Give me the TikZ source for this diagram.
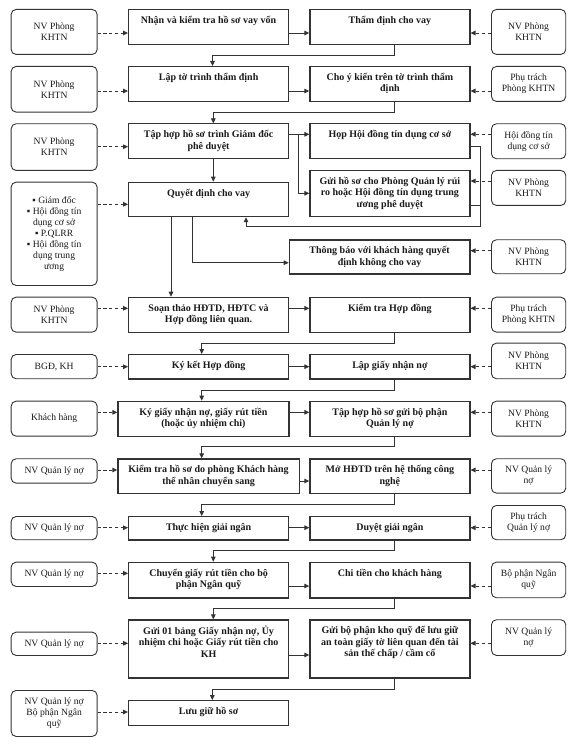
\documentclass[tikz,border=0pt]{standalone}
\usepackage{fontspec}
\setmainfont{Liberation Serif}
\usetikzlibrary{arrows.meta}
\definecolor{lc}{HTML}{333333}
\definecolor{tc}{HTML}{1A1A1A}
\tikzset{
  mbox/.style={draw=lc, line width=1.2pt, rectangle, inner sep=0pt, anchor=north west},
  abox/.style={draw=lc, line width=0.9pt, rounded corners=5pt, rectangle, inner sep=0pt,
    anchor=north west, align=center, font=\fontsize{9.6}{11}\selectfont, text=tc},
  mtext/.style={anchor=north, align=center, inner sep=0pt,
    font=\bfseries\fontsize{10}{11.6}\selectfont, text=tc},
  flow/.style={draw=lc, line width=0.9pt, -{Triangle[length=5pt,width=4.6pt]}},
  dflow/.style={flow, dash pattern=on 3.2pt off 2.6pt},
}
\newcommand\mainbox[6]{%
  \node[mbox, minimum width=#4pt, minimum height=#5pt] (#1) at (#2,#3) {};
  \node[mtext] (#1t) at ([yshift=-6pt]#1.north) {\strut #6};
}
\newcommand\actbox[6]{%
  \node[abox, minimum width=#4pt, minimum height=#5pt] (#1) at (#2,#3) {#6};
}
\begin{document}
\begin{tikzpicture}[x=1pt,y=-1pt]
\useasboundingbox (0,0) rectangle (576,751);
\fill[white] (0,0) rectangle (576,751);

% row 1
\mainbox{a1}{128}{9}{160}{35}{Nhận và kiểm tra hồ sơ vay vốn}
\mainbox{b1}{309.3}{9}{160}{35}{Thẩm định cho vay}
\actbox{l1}{10.7}{9}{86}{45}{NV Phòng\\KHTN}
\actbox{r1}{491}{9}{74.3}{45}{NV Phòng\\KHTN}
% row 2
\mainbox{a2}{128}{66}{160}{35}{Lập tờ trình thẩm định}
\mainbox{b2}{309.3}{66}{160}{35}{Cho ý kiến trên tờ trình thẩm\\định}
\actbox{l2}{10.7}{66}{86}{45.7}{NV Phòng\\KHTN}
\actbox{r2}{491}{66}{74.3}{35}{Phụ trách\\Phòng KHTN}
% row 3
\mainbox{a3}{128}{123.3}{160}{35}{Tập hợp hồ sơ trình Giám đốc\\phê duyệt}
\mainbox{b3}{309.3}{123.3}{160}{35}{Họp Hội đồng tín dụng cơ sở}
\actbox{l3}{10.7}{123.3}{86}{46.7}{NV Phòng\\KHTN}
\actbox{r3}{491}{123.3}{74.3}{35}{Hội đồng tín\\dụng cơ sở}
% decision
\mainbox{qd}{128}{181.7}{160}{34.3}{Quyết định cho vay}
\mainbox{gui}{309.3}{170}{160}{46}{Gửi hồ sơ cho Phòng Quản lý rủi\\ro hoặc Hội đồng tín dụng trung\\ương phê duyệt}
\actbox{l4}{10.7}{181.7}{86}{103.3}{▪ Giám đốc\\▪ Hội đồng tín\\dụng cơ sở\\▪ P.QLRR\\▪ Hội đồng tín\\dụng trung\\ương}
\actbox{r4}{491}{170}{74.3}{35}{NV Phòng\\KHTN}
\mainbox{tb}{288.7}{239.3}{180.6}{34}{Thông báo với khách hàng quyết\\định không cho vay}
\actbox{r5}{491}{239.3}{74.3}{34}{NV Phòng\\KHTN}
% contracts
\mainbox{soan}{128}{296.7}{160}{35}{Soạn thảo HĐTD, HĐTC và\\Hợp đồng liên quan.}
\mainbox{kthd}{309.3}{296.7}{160}{35}{Kiểm tra Hợp đồng}
\actbox{l5}{10.7}{296.7}{86}{35}{NV Phòng\\KHTN}
\actbox{r6}{491}{296.7}{74.3}{35}{Phụ trách\\Phòng KHTN}
\mainbox{kk}{128}{354}{160}{24.3}{Ký kết Hợp đồng}
\mainbox{lg}{309.3}{354}{160}{24.3}{Lập giấy nhận nợ}
\actbox{l6}{10.7}{354}{86}{24.3}{BGĐ, KH}
\actbox{r7}{491}{342.7}{74.3}{35.6}{NV Phòng\\KHTN}
\mainbox{kg}{117.3}{400.7}{171}{35}{Ký giấy nhận nợ, giấy rút tiền\\(hoặc ủy nhiệm chi)}
\mainbox{th}{309.3}{400.7}{160}{35}{Tập hợp hồ sơ gửi bộ phận\\Quản lý nợ}
\actbox{l7}{10.7}{400.7}{86}{35}{Khách hàng}
\actbox{r8}{491}{400.7}{74.3}{35}{NV Phòng\\KHTN}
% debt management
\mainbox{kths}{117.3}{458.3}{181.4}{34.4}{Kiểm tra hồ sơ do phòng Khách hàng\\thể nhân chuyển sang}
\mainbox{mo}{309.3}{458.3}{160}{34.4}{Mở HĐTD trên hệ thống công\\nghệ}
\actbox{l8}{10.7}{458.3}{86}{24.4}{NV Quản lý nợ}
\actbox{r9}{491}{458.3}{74.3}{34.4}{NV Quản lý\\nợ}
\mainbox{thgn}{128}{516}{160}{23.3}{Thực hiện giải ngân}
\mainbox{dgn}{309.3}{516}{160}{23.3}{Duyệt giải ngân}
\actbox{l9}{10.7}{516}{86}{23.3}{NV Quản lý nợ}
\actbox{r10}{491}{505}{74.3}{34.3}{Phụ trách\\Quản lý nợ}
\mainbox{cg}{128}{561.7}{160}{35.6}{Chuyển giấy rút tiền cho bộ\\phận Ngân quỹ}
\mainbox{ct}{309.3}{561.7}{160}{35.6}{Chi tiền cho khách hàng}
\actbox{l10}{10.7}{561.7}{86}{24.3}{NV Quản lý nợ}
\actbox{r11}{491}{561.7}{74.3}{35.6}{Bộ phận Ngân\\quỹ}
\mainbox{g01}{128}{619.3}{160}{58}{Gửi 01 bảng Giấy nhận nợ, Ủy\\nhiệm chi hoặc Giấy rút tiền cho\\KH}
\mainbox{gk}{309.3}{619.3}{160}{58}{Gửi bộ phận kho quỹ để lưu giữ\\an toàn giấy tờ liên quan đến tài\\sản thế chấp / cầm cố}
\actbox{l11}{10.7}{631.7}{86}{23.3}{NV Quản lý nợ}
\actbox{r12}{491}{619.3}{74.3}{35.7}{NV Quản lý\\nợ}
\mainbox{luu}{128}{700}{160}{24.5}{Lưu giữ hồ sơ}
\actbox{l12}{10.7}{690}{86}{46}{NV Quản lý nợ\\Bộ phận Ngân\\quỹ}

% horizontal arrows
\draw[dflow] (l1.east |- 0,33) -- (a1.west |- 0,33);
\draw[flow] (a1.east |- 0,33) -- (b1.west |- 0,33);
\draw[dflow] (r1.west |- 0,33) -- (b1.east |- 0,33);
\draw[dflow] (l2.east |- 0,91) -- (a2.west |- 0,91);
\draw[flow] (a2.east |- 0,91) -- (b2.west |- 0,91);
\draw[dflow] (r2.west |- 0,91) -- (b2.east |- 0,91);
\draw[dflow] (l3.east |- 0,146.7) -- (a3.west |- 0,146.7);
\draw[flow] (a3.east |- 0,134.3) -- (b3.west |- 0,134.3);
\draw[dflow] (r3.west |- 0,134.3) -- (b3.east |- 0,134.3);
\draw[flow] (298.7,134.3) -- (298.7,193.3) -- (gui.west |- 0,193.3);
\draw[dflow] (l4.east |- 0,204.3) -- (qd.west |- 0,204.3);
\draw[dflow] (r4.west |- 0,181) -- (gui.east |- 0,181);
\draw[dflow] (r5.west |- 0,250.7) -- (tb.east |- 0,250.7);
\draw[dflow] (l5.east |- 0,308.3) -- (soan.west |- 0,308.3);
\draw[flow] (soan.east |- 0,308.3) -- (kthd.west |- 0,308.3);
\draw[dflow] (r6.west |- 0,308.3) -- (kthd.east |- 0,308.3);
\draw[dflow] (l6.east |- 0,366.7) -- (kk.west |- 0,366.7);
\draw[flow] (kk.east |- 0,366.7) -- (lg.west |- 0,366.7);
\draw[dflow] (r7.west |- 0,366.7) -- (lg.east |- 0,366.7);
\draw[dflow] (l7.east |- 0,412.3) -- (kg.west |- 0,412.3);
\draw[flow] (kg.east |- 0,412.3) -- (th.west |- 0,412.3);
\draw[dflow] (r8.west |- 0,412.3) -- (th.east |- 0,412.3);
\draw[dflow] (l8.east |- 0,470) -- (kths.west |- 0,470);
\draw[flow] (kths.east |- 0,481) -- (mo.west |- 0,481);
\draw[dflow] (r9.west |- 0,470) -- (mo.east |- 0,470);
\draw[dflow] (l9.east |- 0,527.7) -- (thgn.west |- 0,527.7);
\draw[flow] (thgn.east |- 0,527.7) -- (dgn.west |- 0,527.7);
\draw[dflow] (r10.west |- 0,527.7) -- (dgn.east |- 0,527.7);
\draw[dflow] (l10.east |- 0,573.3) -- (cg.west |- 0,573.3);
\draw[flow] (cg.east |- 0,586) -- (ct.west |- 0,586);
\draw[dflow] (r11.west |- 0,586) -- (ct.east |- 0,586);
\draw[dflow] (l11.east |- 0,643.3) -- (g01.west |- 0,643.3);
\draw[flow] (g01.east |- 0,655) -- (gk.west |- 0,655);
\draw[dflow] (r12.west |- 0,643.3) -- (gk.east |- 0,643.3);
\draw[dflow] (l12.east |- 0,712) -- (luu.west |- 0,712);

% vertical / elbow connectors
\draw[flow] (b1.south -| 394.3,0) |- (212.5,55.5) -- (a2.north -| 212.5,0);
\draw[flow] (b2.south -| 394.3,0) |- (213.3,112.7) -- (a3.north -| 213.3,0);
\draw[flow] (a3.south -| 213.3,0) -- (qd.north -| 213.3,0);
\draw[flow] (b3.east |- 0,146.7) -| (480,226.7) -- (246,226.7) -- (qd.south -| 246,0);
\draw[draw=lc, line width=0.9pt] (gui.east |- 0,205) -- (480,205);
\draw[flow] (qd.south -| 192.7,0) |- (tb.west |- 0,262.7);
\draw[flow] (qd.south -| 171,0) -- (soan.north -| 171,0);
\draw[flow] (kthd.south -| 394.3,0) |- (201.7,343.3) -- (kk.north -| 201.7,0);
\draw[flow] (lg.south -| 394.3,0) |- (201.7,390) -- (kg.north -| 201.7,0);
\draw[flow] (th.south -| 394.3,0) |- (201.7,446.7) -- (kths.north -| 201.7,0);
\draw[flow] (mo.south -| 394.3,0) |- (201.7,504) -- (thgn.north -| 201.7,0);
\draw[flow] (dgn.south -| 394.3,0) |- (213.3,550.7) -- (cg.north -| 213.3,0);
\draw[flow] (ct.south -| 394.3,0) |- (213.3,608.3) -- (g01.north -| 213.3,0);
\draw[flow] (gk.south -| 394.3,0) |- (212.3,689) -- (luu.north -| 212.3,0);
\end{tikzpicture}
\end{document}
